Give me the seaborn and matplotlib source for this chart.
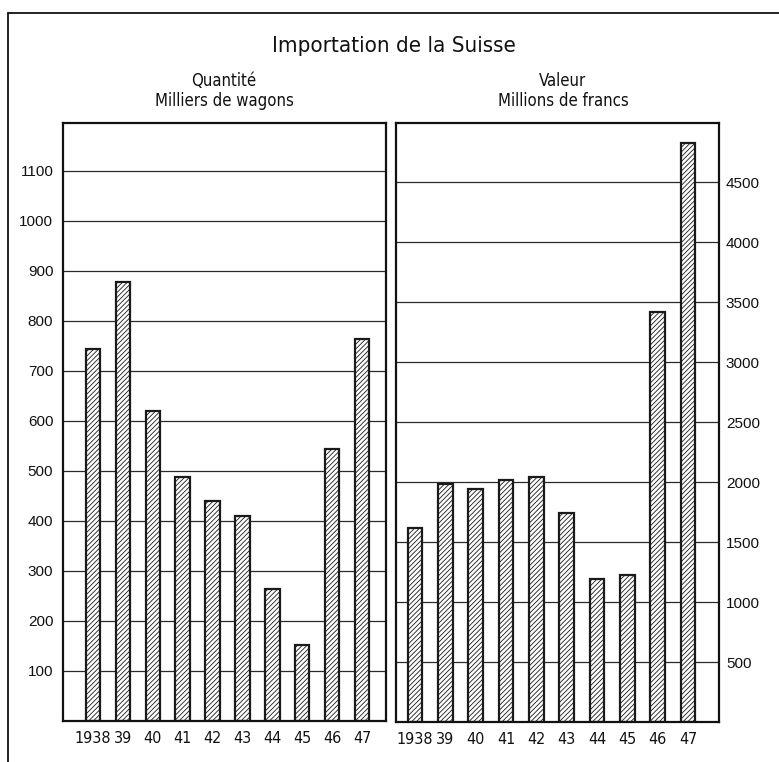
import matplotlib
matplotlib.use("Agg")
import matplotlib.pyplot as plt
import seaborn as sns
from matplotlib.lines import Line2D

years = ["1938", "39", "40", "41", "42", "43", "44", "45", "46", "47"]
quantite = [745, 878, 620, 488, 440, 410, 264, 152, 544, 765]
valeur = [1617, 1983, 1942, 2017, 2042, 1742, 1192, 1225, 3417, 4825]

qty_ticks = list(range(100, 1200, 100))
val_ticks = list(range(500, 5000, 500))

sns.set_theme(style="white")
plt.rcParams["font.family"] = ["DejaVu Sans"]
plt.rcParams["font.stretch"] = "condensed"
plt.rcParams["hatch.linewidth"] = 0.6

W, H = 779, 762
fig = plt.figure(figsize=(W / 100, H / 100), dpi=100)


def add_ax(x0, y0, x1, y1):
    """Axes placed by pixel box (top-left origin)."""
    return fig.add_axes([x0 / W, 1 - y1 / H, (x1 - x0) / W, (y1 - y0) / H])


def draw_panel(ax, values, ticks, ylim, xlim, right=False):
    sns.barplot(x=years, y=values, order=years, ax=ax, color="white",
                edgecolor="#1a1a1a", linewidth=1.6, width=0.48, saturation=1)
    for p in ax.patches:
        p.set_hatch("///////")
    ax.set_ylim(ylim)
    ax.set_xlim(xlim)
    ax.set_yticks(ticks)
    ax.set_yticklabels([str(t) for t in ticks], family="Liberation Sans",
                       stretch="normal", fontsize=11)
    ax.set_xticklabels(years, fontsize=11.5)
    ax.yaxis.grid(True, color="#2a2a2a", linewidth=0.9)
    ax.set_axisbelow(True)
    ax.tick_params(axis="both", length=0, colors="#111111")
    ax.tick_params(axis="y", pad=5 if right else 7)
    ax.tick_params(axis="x", pad=7)
    if right:
        ax.yaxis.tick_right()
    for s in ax.spines.values():
        s.set_visible(True)
        s.set_color("#111111")
        s.set_linewidth(1.6)
    ax.set_xlabel("")
    ax.set_ylabel("")


ax1 = add_ax(63, 123, 386, 721)
ax2 = add_ax(396, 123, 719, 722)

draw_panel(ax1, quantite, qty_ticks, (0, 1196), (-1.0, 9.8))
draw_panel(ax2, valeur, val_ticks, (0, 4992), (-0.63, 10.02), right=True)

fig.text(394 / W, 1 - 46 / H, "Importation de la Suisse", ha="center", va="center",
         fontsize=16, color="#111111")
fig.text(224 / W, 1 - 81 / H, "Quantité", ha="center", va="center", fontsize=12, color="#111111")
fig.text(224 / W, 1 - 101 / H, "Milliers de wagons", ha="center", va="center", fontsize=12, color="#111111")
fig.text(563 / W, 1 - 81 / H, "Valeur", ha="center", va="center", fontsize=12, color="#111111")
fig.text(563 / W, 1 - 101 / H, "Millions de francs", ha="center", va="center", fontsize=12, color="#111111")

# outer frame: top and left edges only
fig.add_artist(Line2D([8 / W, 1], [1 - 13 / H, 1 - 13 / H], color="#111111", linewidth=1.3))
fig.add_artist(Line2D([8 / W, 8 / W], [0, 1 - 13 / H], color="#111111", linewidth=1.3))

fig.savefig("out.png", dpi=100, facecolor="white")
